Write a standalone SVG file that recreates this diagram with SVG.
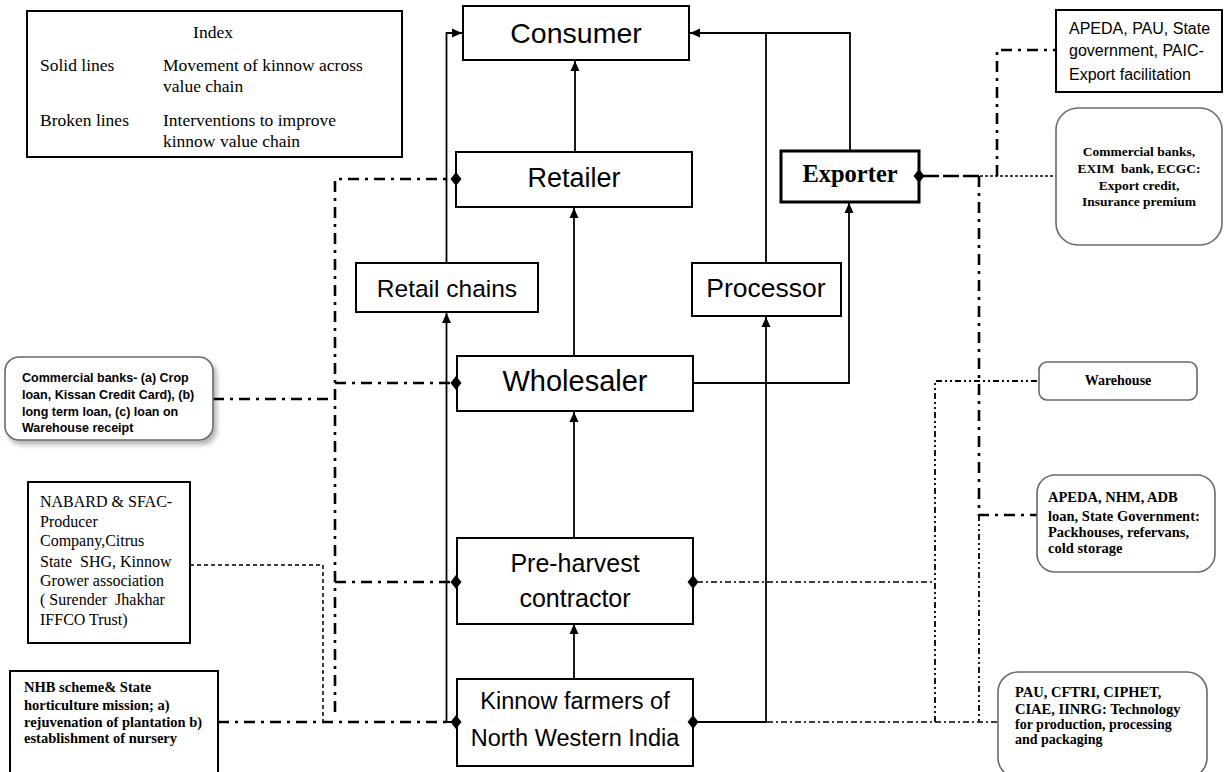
<svg xmlns="http://www.w3.org/2000/svg" xmlns:xlink="http://www.w3.org/1999/xlink" width="1225" height="772" viewBox="0 0 1225 772">
<defs>
<style>
.box{fill:#fff;stroke:#000;stroke-width:2}
.rbox{fill:#fff;stroke:#6a6a6a;stroke-width:1.6}
.sans{font-family:"Liberation Sans",Arial,sans-serif;fill:#000}
.serif{font-family:"Liberation Serif","Times New Roman",serif;fill:#000}
.b{font-weight:bold}
.flow{stroke:#000;stroke-width:1.8;fill:none}
.dd{stroke:#000;stroke-width:2.6;stroke-dasharray:11 6 3 6;fill:none}
.dt{stroke:#000;stroke-width:1.5;stroke-dasharray:6 3 2 3;fill:none}
.dot{stroke:#000;stroke-width:1.5;stroke-dasharray:4 3;fill:none}
.ddd{stroke:#000;stroke-width:1.8;stroke-dasharray:6 3 2 3 2 3;fill:none}
</style>
<marker id="arr" markerUnits="userSpaceOnUse" markerWidth="11" markerHeight="10" refX="10" refY="5" orient="auto">
<path d="M0,0.5 L10,5 L0,9.5 z" fill="#000"/>
</marker>
<path id="dia" d="M0,-7 L5.5,0 L0,7 L-5.5,0 z" fill="#000"/>
<filter id="sh" x="-10%" y="-10%" width="130%" height="140%">
<feGaussianBlur in="SourceAlpha" stdDeviation="2.5"/>
<feOffset dx="3" dy="4" result="o"/>
<feFlood flood-color="#000" flood-opacity="0.3"/>
<feComposite in2="o" operator="in"/>
<feMerge><feMergeNode/><feMergeNode in="SourceGraphic"/></feMerge>
</filter>
</defs>
<rect width="1225" height="772" fill="#fff"/>

<g id="connectors">
<!-- solid flows -->
<path class="flow" d="M574,678 V624" marker-end="url(#arr)"/>
<path class="flow" d="M574,537 V412" marker-end="url(#arr)"/>
<path class="flow" d="M574,356 V208" marker-end="url(#arr)"/>
<path class="flow" d="M575,152 V61" marker-end="url(#arr)"/>
<path class="flow" d="M456,722 H446.5 V313" marker-end="url(#arr)"/>
<path class="flow" d="M446.5,263 V33 H462" marker-end="url(#arr)"/>
<path class="flow" d="M693,722 H766 V317" marker-end="url(#arr)"/>
<path class="flow" d="M766,263 V33"/>
<path class="flow" d="M850,151 V33 H690" marker-end="url(#arr)"/>
<path class="flow" d="M693,383 H849 V203" marker-end="url(#arr)"/>
<!-- left interventions -->
<path class="dd" d="M335,712 V179 H452"/>
<path class="dd" d="M335,383 H452"/>
<path class="dd" d="M335,582 H452"/>
<path class="dd" d="M213,399 H333"/>
<path class="dot" d="M190,565 H323 V722"/>
<path class="dd" d="M218,722 H452"/>
<!-- right interventions -->
<path class="dt" d="M697,582 H935"/>
<path class="dt" d="M697,722 H998"/>
<path class="ddd" d="M935,722 V381 H1039"/>
<path class="dd" d="M979,176 V515 H1037"/>
<path class="ddd" d="M979,515 V722"/>
<path class="dd" d="M923,176 H980" style="stroke-dasharray:16 4"/>
<path class="dot" d="M980,176 H1056" style="stroke-dasharray:3 2"/>
<path class="dd" d="M997,176 V50 H1056"/>
</g>

<g id="index">
<rect class="box" x="27" y="11" width="375" height="146"/>
<text class="serif" x="213" y="38" font-size="17.5" text-anchor="middle">Index</text>
<text class="serif" x="40" y="71" font-size="17.5">Solid lines</text>
<text class="serif" x="163" y="71" font-size="17.5">Movement of kinnow across</text>
<text class="serif" x="163" y="92" font-size="17.5">value chain</text>
<text class="serif" x="40" y="126" font-size="17.5">Broken lines</text>
<text class="serif" x="163" y="126" font-size="17.5">Interventions to improve</text>
<text class="serif" x="163" y="147" font-size="17.5">kinnow value chain</text>
</g>

<g id="consumer">
<rect class="box" x="463" y="6" width="226" height="54"/>
<text class="sans" x="576" y="43" font-size="28.5" text-anchor="middle">Consumer</text>
</g>
<g id="retailer">
<rect class="box" x="456" y="152" width="236" height="55"/>
<text class="sans" x="574" y="187" font-size="27" text-anchor="middle">Retailer</text>
</g>
<g id="exporter">
<rect class="box" x="781" y="151" width="138" height="51" style="stroke-width:3"/>
<text class="serif b" x="850" y="182" font-size="24.5" text-anchor="middle">Exporter</text>
</g>
<g id="retail-chains">
<rect class="box" x="356" y="263" width="182" height="49"/>
<text class="sans" x="447" y="297" font-size="24.5" text-anchor="middle">Retail chains</text>
</g>
<g id="processor">
<rect class="box" x="692" y="263" width="149" height="53"/>
<text class="sans" x="766" y="297" font-size="26.5" text-anchor="middle">Processor</text>
</g>
<g id="wholesaler">
<rect class="box" x="457" y="356" width="236" height="55"/>
<text class="sans" x="575" y="391" font-size="29" text-anchor="middle">Wholesaler</text>
</g>
<g id="pre-harvest">
<rect class="box" x="457" y="538" width="236" height="86"/>
<text class="sans" x="575" y="572" font-size="25" text-anchor="middle">Pre-harvest</text>
<text class="sans" x="575" y="607" font-size="25" text-anchor="middle">contractor</text>
</g>
<g id="kinnow-farmers">
<rect class="box" x="457" y="679" width="236" height="87"/>
<text class="sans" x="575" y="709" font-size="23.5" text-anchor="middle">Kinnow farmers of</text>
<text class="sans" x="575" y="746" font-size="23.5" text-anchor="middle">North Western India</text>
</g>

<g id="commercial-banks-left">
<rect class="rbox" x="5" y="357" width="208" height="83" rx="14" filter="url(#sh)"/>
<text class="sans b" x="22" y="382" font-size="12.5">Commercial banks- (a) Crop</text>
<text class="sans b" x="22" y="399" font-size="12.5">loan, Kissan Credit Card), (b)</text>
<text class="sans b" x="22" y="416" font-size="12.5">long term loan, (c) loan on</text>
<text class="sans b" x="22" y="432" font-size="12.5">Warehouse receipt</text>
</g>
<g id="nabard">
<rect class="box" x="28" y="482" width="162" height="161"/>
<text class="serif" x="40" y="507" font-size="16">NABARD &amp; SFAC-</text>
<text class="serif" x="40" y="526.5" font-size="16">Producer</text>
<text class="serif" x="40" y="546" font-size="16">Company,Citrus</text>
<text class="serif" x="40" y="566.5" font-size="16" xml:space="preserve">State  SHG, Kinnow</text>
<text class="serif" x="40" y="585.5" font-size="16">Grower association</text>
<text class="serif" x="40" y="605" font-size="16" xml:space="preserve">( Surender  Jhakhar</text>
<text class="serif" x="40" y="624.5" font-size="16">IFFCO Trust)</text>
</g>
<g id="nhb">
<rect class="box" x="10" y="671" width="208" height="106"/>
<text class="serif b" x="24" y="692" font-size="14.5">NHB scheme&amp; State</text>
<text class="serif b" x="24" y="710" font-size="14.5">horticulture mission; a)</text>
<text class="serif b" x="24" y="727" font-size="14.5">rejuvenation of plantation b)</text>
<text class="serif b" x="24" y="743" font-size="14.5">establishment of nursery</text>
</g>

<g id="apeda-export">
<rect class="box" x="1056" y="10" width="166" height="82"/>
<text class="sans" x="1069" y="34" font-size="16">APEDA, PAU, State</text>
<text class="sans" x="1069" y="56" font-size="16">government, PAIC-</text>
<text class="sans" x="1069" y="80" font-size="16">Export facilitation</text>
</g>
<g id="commercial-banks-right">
<rect class="rbox" x="1056" y="108" width="166" height="137" rx="22"/>
<text class="serif b" x="1139" y="156" font-size="13.5" text-anchor="middle">Commercial banks,</text>
<text class="serif b" x="1139" y="173" font-size="13.5" text-anchor="middle" xml:space="preserve">EXIM  bank, ECGC:</text>
<text class="serif b" x="1139" y="190" font-size="13.5" text-anchor="middle">Export credit,</text>
<text class="serif b" x="1139" y="206" font-size="13.5" text-anchor="middle">Insurance premium</text>
</g>
<g id="warehouse">
<rect class="rbox" x="1039" y="362" width="158" height="38" rx="8"/>
<text class="serif b" x="1118" y="385" font-size="14" text-anchor="middle">Warehouse</text>
</g>
<g id="apeda-nhm">
<rect class="rbox" x="1037" y="475" width="178" height="97" rx="18"/>
<text class="serif b" x="1048" y="502" font-size="14.5">APEDA, NHM, ADB</text>
<text class="serif b" x="1048" y="521" font-size="14.5">loan, State Government:</text>
<text class="serif b" x="1048" y="537" font-size="14.5">Packhouses, refervans,</text>
<text class="serif b" x="1048" y="553" font-size="14.5">cold storage</text>
</g>
<g id="pau">
<rect class="rbox" x="998" y="672" width="209" height="106" rx="20"/>
<text class="serif b" x="1015" y="697" font-size="14.5">PAU, CFTRI, CIPHET,</text>
<text class="serif b" x="1015" y="714" font-size="14.5">CIAE, IINRG: Technology</text>
<text class="serif b" x="1015" y="729" font-size="14">for production, processing</text>
<text class="serif b" x="1015" y="744" font-size="14">and packaging</text>
</g>

<g id="connector-ends">
<use xlink:href="#dia" x="456" y="179"/>
<use xlink:href="#dia" x="456" y="383"/>
<use xlink:href="#dia" x="456" y="582"/>
<use xlink:href="#dia" x="693" y="582"/>
<use xlink:href="#dia" x="456" y="722"/>
<use xlink:href="#dia" x="693" y="722"/>
<use xlink:href="#dia" x="919" y="176"/>
</g>
</svg>
